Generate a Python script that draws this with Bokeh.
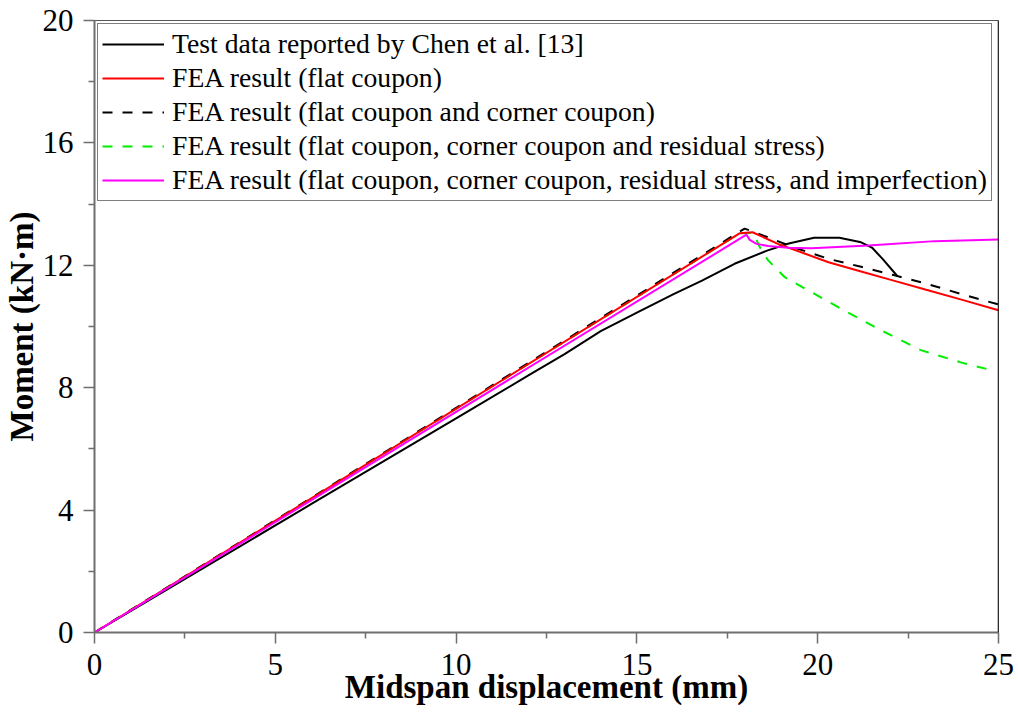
from bokeh.plotting import figure
from bokeh.models import Range1d, FixedTicker, Legend, LegendItem, Span
from bokeh.embed import file_html
from bokeh.resources import INLINE

# ---- data ----
test_x = [0, 2, 4, 6, 8, 10, 12, 13, 14, 15, 16, 16.8, 17.7, 18.6, 19.2, 19.9, 20.6, 21.2, 21.5, 21.8, 22.2]
test_y = [0, 1.4, 2.8, 4.2, 5.6, 7.0, 8.4, 9.1, 9.85, 10.45, 11.05, 11.5, 12.05, 12.48, 12.71, 12.9, 12.9, 12.75, 12.58, 12.2, 11.65]

flat_x = [0, 17.85, 18.2, 18.9, 19.6, 20.3, 21.2, 22.1, 23, 24, 25]
flat_y = [0, 13.05, 13.08, 12.7, 12.4, 12.1, 11.8, 11.5, 11.2, 10.87, 10.53]

corner_x = [0, 17.98, 18.5, 19.3, 20.3, 21.2, 22.1, 23, 24, 25]
corner_y = [0, 13.2, 12.97, 12.6, 12.21, 11.95, 11.68, 11.4, 11.05, 10.72]

resid_x = [0, 17.85, 18.22, 18.4, 18.63, 19.09, 19.74, 20.74, 21.76, 22.87, 23.98, 24.75]
resid_y = [0, 13.05, 13.06, 12.59, 12.16, 11.61, 11.18, 10.52, 9.87, 9.22, 8.82, 8.59]

imp_x = [0, 18.03, 18.12, 18.31, 18.63, 19.18, 19.83, 21.4, 23.24, 25]
imp_y = [0, 13.0, 12.83, 12.7, 12.63, 12.57, 12.56, 12.65, 12.79, 12.84]

x_ticks = [0, 5, 10, 15, 20, 25]
y_ticks = [0, 4, 8, 12, 16, 20]

labels = [
    "Test data reported by Chen et al. [13]",
    "FEA result (flat coupon)",
    "FEA result (flat coupon and corner coupon)",
    "FEA result (flat coupon, corner coupon and residual stress)",
    "FEA result (flat coupon, corner coupon, residual stress, and imperfection)",
]

FONT = "Liberation Serif"
AX = "#6e6e6e"

p = figure(frame_width=904, frame_height=612,
           x_range=Range1d(0, 25), y_range=Range1d(0, 20),
           output_backend="svg", toolbar_location=None,
           min_border_left=93, min_border_right=21, min_border_top=20, min_border_bottom=81)

p.xgrid.visible = False
p.ygrid.visible = False
p.outline_line_color = "#555555"
p.outline_line_width = 1

for ax in (p.xaxis[0], p.yaxis[0]):
    ax.axis_line_color = AX
    ax.axis_line_width = 2
    ax.major_tick_line_color = AX
    ax.minor_tick_line_color = AX
    ax.major_tick_line_width = 1.5
    ax.minor_tick_line_width = 1.5
    ax.major_tick_in = 0
    ax.minor_tick_in = 0
    ax.major_tick_out = 11
    ax.minor_tick_out = 6
    ax.major_label_text_font = FONT
    ax.major_label_text_font_size = "31px"
    ax.major_label_text_color = "black"
    ax.axis_label_text_font = FONT
    ax.axis_label_text_font_style = "bold"
    ax.axis_label_text_font_size = "33px"
    ax.axis_label_text_color = "black"

p.xaxis.ticker = FixedTicker(ticks=x_ticks, minor_ticks=[2.5, 7.5, 12.5, 17.5, 22.5])
p.yaxis.ticker = FixedTicker(ticks=y_ticks, minor_ticks=[2, 6, 10, 14, 18])
p.xaxis.major_label_standoff = 10
p.yaxis.major_label_standoff = 10
p.xaxis.axis_label = "Midspan displacement (mm)"
p.yaxis.axis_label = "Moment (kN·m)"
p.xaxis.axis_label_standoff = -9
p.yaxis.axis_label_standoff = 0

r_test = p.line(test_x, test_y, line_color="black", line_width=2)
r_resid = p.line(resid_x, resid_y, line_color="#00ee00", line_width=2, line_dash="10 10")
r_corner = p.line(corner_x, corner_y, line_color="black", line_width=2, line_dash="10 10")
r_flat = p.line(flat_x, flat_y, line_color="#ff0000", line_width=2)
r_imp = p.line(imp_x, imp_y, line_color="#ff00ff", line_width=2)

p.add_layout(Span(location=25, dimension="height", line_color="black", line_width=1.5))

legend = Legend(items=[LegendItem(label=l, renderers=[r]) for l, r in
                       zip(labels, [r_test, r_flat, r_corner, r_resid, r_imp])],
                location="top_left", margin=3, padding=4, spacing=2,
                glyph_width=62, glyph_height=30, label_height=30, label_standoff=8,
                label_text_font=FONT, label_text_font_size="27.7px", label_text_color="black",
                border_line_color="black", border_line_width=1,
                background_fill_color="white", background_fill_alpha=1)
p.add_layout(legend)

open("out.html", "w").write(file_html(p, INLINE))
